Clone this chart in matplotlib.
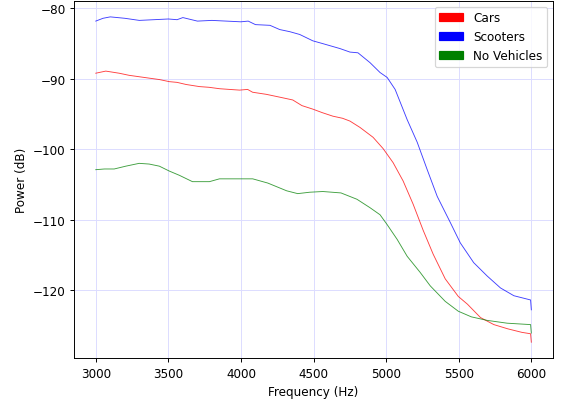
import matplotlib
matplotlib.use("Agg")
import matplotlib.pyplot as plt
import matplotlib.patches as mpatches

# Frequency (Hz) / power (dB) readings for each recording condition
cars_freq = [3000, 3069, 3161, 3230, 3299, 3368, 3438, 3507, 3560, 3622, 3714, 3780, 3852,
             3920, 3991, 4046, 4080, 4175, 4267, 4357, 4420, 4495, 4560, 4633, 4700, 4751,
             4820, 4910, 4979, 5048, 5117, 5186, 5255, 5324, 5407, 5497, 5560, 5650, 5742,
             5838, 5935, 5995, 6000]
cars_power = [-89.2, -88.9, -89.2, -89.5, -89.7, -89.9, -90.1, -90.4, -90.5, -90.8, -91.1,
              -91.2, -91.4, -91.5, -91.6, -91.5, -91.9, -92.2, -92.6, -93.0, -93.8, -94.3,
              -94.8, -95.3, -95.6, -96.0, -96.9, -98.3, -99.9, -101.9, -104.5, -107.8,
              -111.5, -114.9, -118.4, -120.9, -122.0, -123.9, -124.9, -125.5, -126.0,
              -126.2, -127.4]

scooters_freq = [3000, 3050, 3100, 3200, 3300, 3400, 3500, 3560, 3600, 3700, 3800, 3900,
                 4000, 4050, 4100, 4200, 4267, 4336, 4405, 4495, 4564, 4682, 4751, 4806,
                 4889, 4958, 5007, 5062, 5145, 5214, 5283, 5352, 5442, 5511, 5603, 5696,
                 5788, 5880, 5995, 6000]
scooters_power = [-81.8, -81.4, -81.2, -81.4, -81.7, -81.6, -81.5, -81.6, -81.3, -81.8,
                  -81.7, -81.8, -81.9, -81.8, -82.3, -82.4, -83.0, -83.3, -83.7, -84.6,
                  -85.0, -85.7, -86.2, -86.3, -87.7, -89.1, -89.8, -91.5, -95.8, -99.0,
                  -102.9, -106.7, -110.4, -113.3, -116.1, -118.0, -119.7, -120.8, -121.4,
                  -122.8]

none_freq = [3000, 3060, 3127, 3207, 3299, 3368, 3438, 3507, 3576, 3666, 3783, 3852, 3942,
             4081, 4185, 4315, 4391, 4474, 4564, 4689, 4799, 4889, 4958, 5007, 5076, 5145,
             5235, 5304, 5407, 5497, 5587, 5696, 5834, 5995, 6000]
none_power = [-102.9, -102.8, -102.8, -102.4, -102.0, -102.1, -102.4, -103.1, -103.7,
              -104.6, -104.6, -104.2, -104.2, -104.2, -104.8, -105.9, -106.3, -106.1,
              -106.0, -106.2, -107.1, -108.3, -109.3, -110.7, -112.8, -115.2, -117.5,
              -119.4, -121.6, -123.0, -123.8, -124.3, -124.7, -124.9, -126.1]

series_labels = ["Cars", "Scooters", "No Vehicles"]
series_colors = ["red", "blue", "green"]

DPI = 86.4
fig = plt.figure(figsize=(563 / DPI, 403 / DPI), dpi=DPI)
ax = fig.add_axes([0.1314, 0.108, 0.851, 0.888])

for fx, py, c in zip([cars_freq, scooters_freq, none_freq],
                     [cars_power, scooters_power, none_power], series_colors):
    ax.plot(fx, py, color=c, linewidth=0.75, alpha=0.75)

ax.grid(True, color="#dcdcff", linewidth=0.8)
ax.set_axisbelow(True)
ax.set_xticks([3000, 3500, 4000, 4500, 5000, 5500, 6000])
ax.set_yticks([-80, -90, -100, -110, -120])
ax.set_xlabel("Frequency (Hz)")
ax.set_ylabel("Power (dB)")

handles = [mpatches.Patch(color=c, label=l) for c, l in zip(series_colors, series_labels)]
ax.legend(handles=handles, loc="upper right")

fig.savefig("out.png", dpi=DPI)
